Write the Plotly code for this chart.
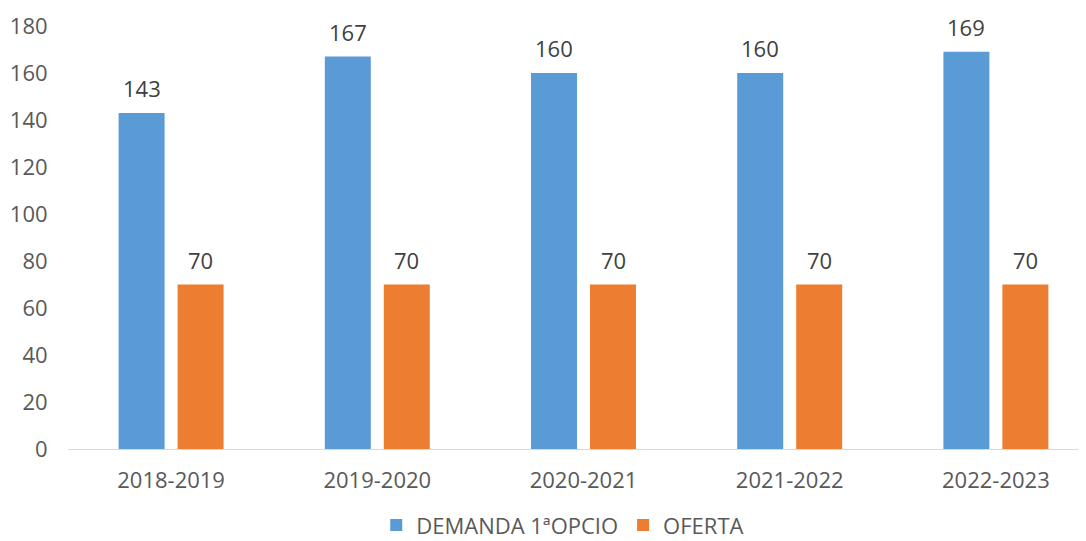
import plotly.graph_objects as go

categories = ["2018-2019", "2019-2020", "2020-2021", "2021-2022", "2022-2023"]
demanda = [143, 167, 160, 160, 169]
oferta = [70, 70, 70, 70, 70]
y_ticks = [0, 20, 40, 60, 80, 100, 120, 140, 160, 180]

FONT = "Open Sans"
FS = 22

fig = go.Figure()
fig.add_trace(go.Bar(
    x=categories, y=demanda, name="DEMANDA 1ªOPCIO",
    marker=dict(color="#5B9BD5", line=dict(width=0)),
))
fig.add_trace(go.Bar(
    x=categories, y=oferta, name="OFERTA",
    marker=dict(color="#ED7D31", line=dict(width=0)),
))

annotations = []
for cat, v in zip(categories, demanda):
    annotations.append(dict(x=cat, y=v, text=str(v), showarrow=False, xshift=-29.5, yshift=25,
                            yanchor="middle", font=dict(size=FS, color="#404040", family=FONT)))
for cat, v in zip(categories, oferta):
    annotations.append(dict(x=cat, y=v, text=str(v), showarrow=False, xshift=29.5, yshift=25,
                            yanchor="middle", font=dict(size=FS, color="#404040", family=FONT)))

fig.update_layout(
    width=1078, height=533,
    margin=dict(l=60, r=0, t=18, b=92, autoexpand=False),
    paper_bgcolor="white", plot_bgcolor="white",
    barmode="group", bargap=0.428, bargroupgap=0.22,
    font=dict(family=FONT, size=FS, color="#595959"),
    showlegend=True,
    legend=dict(orientation="h", x=0.486, xanchor="center", y=-0.18, yanchor="middle",
                font=dict(size=FS, color="#595959", family=FONT), itemwidth=30,
                traceorder="normal"),
    annotations=annotations,
    xaxis=dict(range=[-0.5, 4.437], showgrid=False, showline=True, linecolor="#D9D9D9",
               linewidth=1, ticks="outside", ticklen=12, tickcolor="rgba(0,0,0,0)",
               tickfont=dict(size=FS, color="#595959"), zeroline=False, automargin=False),
    yaxis=dict(range=[0, 180], tickvals=y_ticks, showgrid=False, showline=False,
               zeroline=False, ticks="outside", ticklen=15, tickcolor="rgba(0,0,0,0)",
               tickfont=dict(size=FS, color="#595959"), automargin=False),
)

fig.write_html("out.html")
